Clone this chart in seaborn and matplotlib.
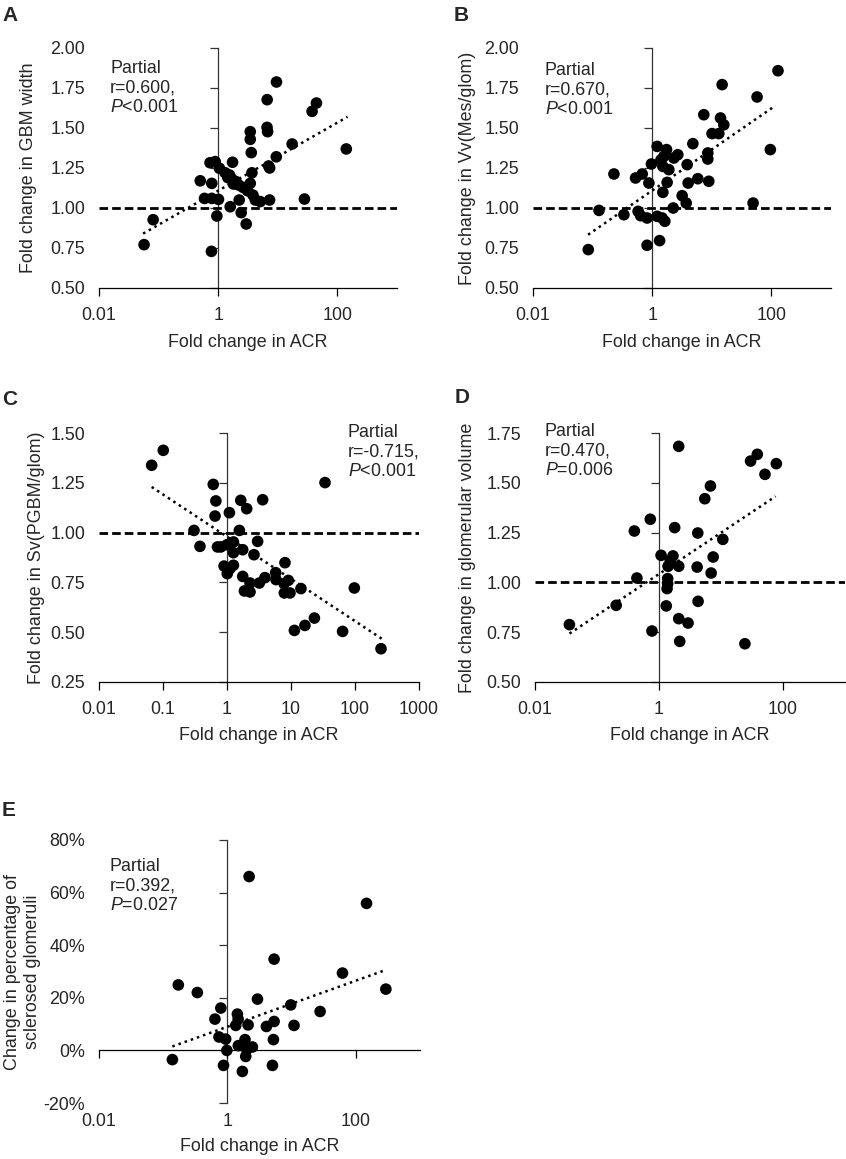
import numpy as np
import matplotlib
matplotlib.use('Agg')
import matplotlib.pyplot as plt
import matplotlib.ticker as mticker
import seaborn as sns

# ---- data ----
# A: GBM width
a_acr = [0.057, 0.081, 0.77, 0.50, 0.73, 0.89, 1.05, 1.74, 0.78, 1.31, 1.55, 1.70, 2.0, 2.19, 2.60,
         3.45, 3.11, 3.83, 4.19, 5.08, 7.28, 3.68, 3.59, 3.45, 3.45, 6.74, 6.6, 6.63, 9.5, 7.02, 7.3,
         9.44, 0.59, 0.78, 1.01, 1.59, 2.25, 2.43, 2.95, 0.95, 17.4, 37.6, 44.5, 141, 28, 1.45, 1.8]
a_gbm = [0.771, 0.927, 0.729, 1.17, 1.283, 1.29, 1.248, 1.286, 1.154, 1.22, 1.206, 1.18, 1.165, 1.144,
         1.129, 1.154, 1.108, 1.081, 1.05, 1.04, 1.05, 1.22, 1.346, 1.429, 1.477, 1.477, 1.504, 1.677,
         1.7875, 1.2625, 1.25, 1.32, 1.06, 1.06, 1.054, 1.008, 1.05, 0.971, 0.9, 0.95, 1.40, 1.604,
         1.656, 1.369, 1.056, 1.19, 1.15]
a_fit_x = [0.055, 148]
a_fit_y = [0.84, 1.57]

# B: Vv(Mes/glom)
b_acr = [0.0846, 0.128, 0.228, 0.335, 0.526, 0.68, 0.58, 0.64, 0.82, 0.88, 0.97, 0.82, 1.21, 1.21,
         1.47, 1.63, 1.33, 1.51, 1.78, 1.51, 1.74, 1.57, 1.90, 2.31, 2.69, 2.25, 3.18, 3.72, 3.86,
         4.01, 4.81, 5.83, 7.34, 8.57, 8.57, 8.9, 10.1, 13.1, 14.0, 15.9, 14.9, 49.3, 57.5, 96, 129, 1.40]
b_vv = [0.740, 0.985, 1.2125, 0.958, 1.1875, 1.2125, 0.979, 0.952, 0.9375, 1.156, 1.275, 0.767,
        1.385, 0.948, 0.9375, 0.917, 0.796, 1.098, 1.16, 1.26, 1.365, 1.323, 1.24, 1.3125, 1.333,
        1.0, 1.077, 1.031, 1.271, 1.156, 1.402, 1.183, 1.583, 1.344, 1.306, 1.167, 1.465, 1.465,
        1.5625, 1.52, 1.771, 1.031, 1.694, 1.365, 1.858, 1.30]
b_fit_x = [0.084, 117]
b_fit_y = [0.833, 1.64]

# C: Sv(PGBM/glom)
c_acr = [0.0665, 0.101, 0.61, 0.67, 0.65, 0.305, 0.378, 0.71, 0.80, 1.09, 1.0, 1.26, 1.26, 0.90,
         1.26, 1.01, 1.11, 1.56, 1.64, 2.03, 1.76, 1.76, 1.87, 2.29, 2.29, 2.64, 3.01, 3.2, 3.92,
         3.61, 34, 5.76, 5.83, 8.05, 7.77, 9.08, 7.87, 9.64, 14.3, 11.3, 16.5, 23.2, 64, 97.6, 255]
c_sv = [1.338, 1.413, 1.242, 1.159, 1.083, 1.011, 0.931, 0.928, 0.928, 1.10, 0.939, 0.953, 0.899,
        0.832, 0.836, 0.794, 0.819, 1.011, 1.162, 1.12, 0.914, 0.780, 0.707, 0.702, 0.747, 0.889,
        0.956, 0.747, 0.774, 1.165, 1.251, 0.799, 0.764, 0.849, 0.744, 0.760, 0.697, 0.697, 0.719,
        0.509, 0.534, 0.571, 0.504, 0.722, 0.417]
c_fit_x = [0.0665, 261]
c_fit_y = [1.229, 0.4675]

# D: glomerular volume
d_acr = [0.0359, 0.204, 0.40, 0.44, 0.724, 0.77, 1.08, 1.40, 1.68, 1.52, 1.38, 1.38, 1.35, 1.31,
         1.79, 2.08, 2.08, 2.08, 2.16, 2.94, 4.22, 4.12, 4.27, 5.48, 6.76, 6.93, 7.47, 10.7, 24.3,
         30, 38.5, 51.2, 78]
d_gv = [0.788, 0.885, 1.258, 1.022, 1.317, 0.756, 1.136, 1.081, 1.133, 1.11, 1.019, 0.994, 0.969,
        0.882, 1.275, 1.683, 1.081, 0.818, 0.704, 0.796, 1.248, 1.077, 0.905, 1.42, 1.484, 1.047,
        1.1275, 1.216, 0.692, 1.609, 1.643, 1.5425, 1.596]
d_fit_x = [0.036, 76]
d_fit_y = [0.743, 1.432]

# E: sclerosed glomeruli (%)
e_acr = [0.139, 0.172, 0.34, 0.64, 0.79, 0.74, 0.94, 0.98, 0.87, 1.43, 1.47, 1.35, 2.10, 2.18, 1.48,
         1.88, 2.0, 1.93, 2.45, 1.71, 2.94, 4.05, 5.34, 5.21, 5.03, 5.34, 9.7, 10.9, 27.8, 62, 147, 294]
e_scl = [-3.5, 24.9, 22.0, 11.9, 16.1, 5.1, 4.3, 0, -5.7, 13.8, 11.9, 9.5, 9.7, 66.1, 1.8, 4.1, 0.3,
         -2.3, 1.3, -8.0, 19.5, 9.1, 11.0, 4.1, -5.7, 34.7, 17.3, 9.5, 14.8, 29.4, 55.9, 23.3]
e_fit_x = [0.139, 294]
e_fit_y = [1.5, 30.6]

xticks_short = [0.01, 1, 100]
xticks_long = [0.01, 0.1, 1, 10, 100, 1000]

sns.set_theme(style='white')
plt.rcParams['font.family'] = ['Liberation Sans', 'DejaVu Sans']
plt.rcParams['mathtext.fontset'] = 'custom'
plt.rcParams['mathtext.rm'] = 'Liberation Sans'
plt.rcParams['mathtext.it'] = 'Liberation Sans:italic'
FS = 12.9

fig = plt.figure(figsize=(8.46, 11.59), dpi=100)


def draw_panel(rect, x, y, fit_x, fit_y, ylim, yticks, ytick_fmt, xticks, ylabel, note, note_pos,
               ylabel_x, xlabel_y, baseline=True, zero_axis=False):
    ax = fig.add_axes(rect)
    sns.scatterplot(x=x, y=y, ax=ax, color='black', s=70, edgecolor='none', legend=False, zorder=3)
    ax.set_xscale('log')
    ax.set_xlim(0.01, 1000)
    ax.set_ylim(*ylim)
    ax.plot(fit_x, fit_y, color='black', lw=1.8, ls=(0, (1, 1.6)), zorder=2)
    if baseline:
        ax.axhline(1, color='black', lw=2, ls=(0, (3.1, 1.45)), zorder=1)
    for s in ax.spines.values():
        s.set_visible(False)

    ax.set_yticks(yticks)
    ax.set_yticklabels([ytick_fmt.format(v) for v in yticks], fontsize=FS)
    ax.tick_params(axis='y', length=0, pad=10)

    # vertical axis drawn at x = 1
    frac = (0 - np.log10(0.01)) / (np.log10(1000) - np.log10(0.01))
    sec = ax.secondary_yaxis(frac)
    sec.set_yticks(yticks)
    sec.set_yticklabels([])
    sec.tick_params(length=6, width=0.9, color='#333333')
    sec.spines['left'].set_color('#333333')
    sec.spines['left'].set_linewidth(0.9)

    ax.set_xticks(xticks)
    ax.set_xticklabels(['{:g}'.format(v) for v in xticks], fontsize=FS)
    ax.xaxis.set_minor_locator(mticker.NullLocator())
    if zero_axis:
        ax.tick_params(axis='x', length=0, pad=7.5)
        zfrac = (0 - ylim[0]) / (ylim[1] - ylim[0])
        secx = ax.secondary_xaxis(zfrac)
        secx.set_xticks(xticks)
        secx.set_xticklabels([])
        secx.xaxis.set_minor_locator(mticker.NullLocator())
        secx.tick_params(length=6, width=0.9, color='black')
        secx.spines['bottom'].set_color('black')
        secx.spines['bottom'].set_linewidth(0.9)
    else:
        ax.spines['bottom'].set_visible(True)
        ax.spines['bottom'].set_color('black')
        ax.spines['bottom'].set_linewidth(0.9)
        ax.tick_params(axis='x', length=6, width=0.9, color='black', pad=8, direction='out',
                       bottom=True)

    ax.set_ylabel(ylabel, fontsize=FS, linespacing=1.25)
    ax.yaxis.set_label_coords(ylabel_x, 0.5)
    ax.set_xlabel('Fold change in ACR', fontsize=FS)
    ax.xaxis.set_label_coords(0.5, xlabel_y)
    ax.text(note_pos[0], note_pos[1], note, transform=ax.transAxes, fontsize=FS,
            ha='left', va='top')
    return ax


H = 1159.0
W = 846.0


def rect(x0, x1, ytop, ybot):
    return [x0 / W, 1 - ybot / H, (x1 - x0) / W, (ybot - ytop) / H]


yt_a = [0.50, 0.75, 1.00, 1.25, 1.50, 1.75, 2.00]
draw_panel(rect(99, 397, 48, 288), a_acr, a_gbm, a_fit_x, a_fit_y, (0.5, 2.0), yt_a, '{:.2f}',
           xticks_short, 'Fold change in GBM width', 'Partial\nr=0.600,\n$P$<0.001',
           (0.037, 0.95), -0.207, -0.19)
draw_panel(rect(533, 831, 48, 288), b_acr, b_vv, b_fit_x, b_fit_y, (0.5, 2.0), yt_a, '{:.2f}',
           xticks_short, 'Fold change in Vv(Mes/glom)', 'Partial\nr=0.670,\n$P$<0.001',
           (0.04, 0.943), -0.19, -0.19)

yt_c = [0.25, 0.50, 0.75, 1.00, 1.25, 1.50]
draw_panel(rect(99, 419, 433, 682), c_acr, c_sv, c_fit_x, c_fit_y, (0.25, 1.5), yt_c, '{:.2f}',
           xticks_long, 'Fold change in Sv(PGBM/glom)', 'Partial\nr=-0.715,\n$P$<0.001',
           (0.778, 1.036), -0.168, -0.18)

yt_d = [0.50, 0.75, 1.00, 1.25, 1.50, 1.75]
draw_panel(rect(535, 845, 433, 682), d_acr, d_gv, d_fit_x, d_fit_y, (0.5, 1.75), yt_d, '{:.2f}',
           xticks_short, 'Fold change in glomerular volume', 'Partial\nr=0.470,\n$P$=0.006',
           (0.032, 1.041), -0.19, -0.18)

yt_e = [-20, 0, 20, 40, 60, 80]
draw_panel(rect(99, 420, 840, 1103), e_acr, e_scl, e_fit_x, e_fit_y, (-20, 80), yt_e, '{:.0f}%',
           xticks_short, 'Change in percentage of\nsclerosed glomeruli', 'Partial\nr=0.392,\n$P$=0.027',
           (0.034, 0.933), -0.18, -0.133, baseline=False, zero_axis=True)

for letter, lx, ly in [('A', 2, 15.5), ('B', 454, 15.5), ('C', 2, 399.5), ('D', 455, 397.5), ('E', 2, 810)]:
    fig.text(lx / W, 1 - ly / H, letter, fontsize=15, fontweight='bold', ha='left', va='center')

fig.savefig('out.png', dpi=100)
